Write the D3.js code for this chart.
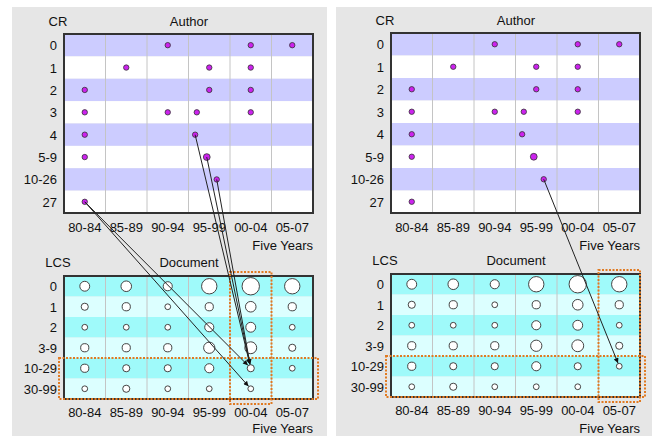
<html>
<head>
<script src="https://d3js.org/d3.v7.min.js"></script>
<style>
  body { margin: 0; background: #fff; }
  text { font-family: "Liberation Sans", Arial, sans-serif; font-size: 13px; fill: #111; }
</style>
</head>
<body>
<div id="chart"></div>
<script>
// periods on the x axis (start year, length in years)
const periods = ['80-84', '85-89', '90-94', '95-99', '00-04', '05-07'];
const periodStart = [1980, 1985, 1990, 1995, 2000, 2005];
const periodLen = [5, 5, 5, 5, 5, 3];

// row labels
const crRows = ['0', '1', '2', '3', '4', '5-9', '10-26', '27'];
const lcsRows = ['0', '1', '2', '3-9', '10-29', '30-99'];

// author points: period, CR class, year inside the period, number of authors
const authorPeriod = ['90-94', '00-04', '05-07', '85-89', '95-99', '00-04', '80-84', '95-99', '00-04',
                      '80-84', '90-94', '95-99', '00-04', '80-84', '95-99', '80-84', '95-99', '95-99', '80-84'];
const authorCR = ['0', '0', '0', '1', '1', '1', '2', '2', '2',
                  '3', '3', '3', '3', '4', '4', '5-9', '5-9', '10-26', '27'];
const authorYear = [1992.5, 2002.5, 2006.5, 1987.5, 1997.5, 2002.5, 1982.5, 1997.5, 2002.5,
                    1982.5, 1992.5, 1996.0, 2002.5, 1982.5, 1995.8, 1982.5, 1997.2, 1998.4, 1982.5];
const authorCount = [1, 1, 1, 1, 1, 1, 1, 1, 1, 1, 1, 1, 1, 1, 1, 1, 2, 1, 1];

// document counts, rows = LCS class, columns = period
const docCounts = [
  [5, 6, 4, 15, 20, 15],
  [2, 3, 1, 3, 6, 3],
  [1, 1, 1, 4, 5, 1],
  [3, 3, 3, 7, 8, 2],
  [3, 2, 2, 4, 2, 1],
  [1, 2, 1, 1, 1, 0]
];

// citation links: author point index -> document cell
const leftLinks = [
  { from: 18, toPeriod: '00-04', toRow: '10-29' },
  { from: 18, toPeriod: '00-04', toRow: '30-99' },
  { from: 14, toPeriod: '00-04', toRow: '10-29' },
  { from: 16, toPeriod: '00-04', toRow: '10-29' },
  { from: 17, toPeriod: '00-04', toRow: '10-29' }
];
const rightLinks = [
  { from: 17, toPeriod: '05-07', toRow: '10-29' }
];

// highlighted column / rows of the document grid
const leftHighlight = { period: '00-04', rows: ['10-29', '30-99'] };
const rightHighlight = { period: '05-07', rows: ['10-29', '30-99'] };

const W = 652, H = 436;
const svg = d3.select('#chart').append('svg').attr('width', W).attr('height', H);

const defs = svg.append('defs');
defs.append('marker')
    .attr('id', 'arrow')
    .attr('markerUnits', 'userSpaceOnUse')
    .attr('viewBox', '0 0 10 10')
    .attr('refX', 10).attr('refY', 5)
    .attr('markerWidth', 8).attr('markerHeight', 5)
    .attr('orient', 'auto')
  .append('path')
    .attr('d', 'M0,0 L10,5 L0,10 z')
    .attr('fill', '#111');

const authors = authorPeriod.map((p, i) => ({
  period: p, cr: authorCR[i], year: authorYear[i], n: authorCount[i]
}));
const docs = [];
docCounts.forEach((row, r) => row.forEach((n, c) => {
  if (n > 0) docs.push({ period: periods[c], lcs: lcsRows[r], n: n });
}));

const rDoc = d3.scaleSqrt().domain([0, 20]).range([1.2, 8.7]);
const rAuthor = d3.scaleLinear().domain([1, 2]).range([2.7, 3.4]);

function drawPanel(cfg) {
  const g = svg.append('g');

  g.append('rect')
      .attr('x', cfg.bgX).attr('y', 7)
      .attr('width', cfg.bgW).attr('height', H - 7)
      .attr('fill', '#e6e6e6');

  const x = d3.scaleBand().domain(periods).range([cfg.x0, cfg.x0 + 249]);
  const yTop = d3.scaleBand().domain(crRows).range([cfg.topY0, cfg.topY1]);
  const yBot = d3.scaleBand().domain(lcsRows).range([cfg.botY0, cfg.botY1]);
  const bw = x.bandwidth();

  const authorX = d => {
    const i = periods.indexOf(d.period);
    return x(d.period) + (d.year - periodStart[i]) / periodLen[i] * bw;
  };
  const docX = p => x(p) + bw / 2;

  // ---- top: Author grid
  g.selectAll('.rowTop').data(crRows).enter().append('rect')
      .attr('x', cfg.x0).attr('y', d => yTop(d))
      .attr('width', 249).attr('height', yTop.bandwidth())
      .attr('fill', (d, i) => i % 2 === 0 ? '#ccccff' : '#ffffff');
  g.selectAll('.colTop').data(periods.slice(1)).enter().append('line')
      .attr('x1', d => x(d)).attr('x2', d => x(d))
      .attr('y1', cfg.topY0).attr('y2', cfg.topY1)
      .attr('stroke', '#c4c4c4');
  g.append('rect')
      .attr('x', cfg.x0).attr('y', cfg.topY0)
      .attr('width', 249).attr('height', cfg.topY1 - cfg.topY0)
      .attr('fill', 'none').attr('stroke', '#333').attr('stroke-width', 2);

  // ---- bottom: Document grid
  g.selectAll('.rowBot').data(lcsRows).enter().append('rect')
      .attr('x', cfg.x0).attr('y', d => yBot(d))
      .attr('width', 249).attr('height', yBot.bandwidth())
      .attr('fill', (d, i) => i % 2 === 0 ? '#9ffafa' : '#dcffff');
  g.selectAll('.colBot').data(periods.slice(1)).enter().append('line')
      .attr('x1', d => x(d)).attr('x2', d => x(d))
      .attr('y1', cfg.botY0).attr('y2', cfg.botY1)
      .attr('stroke', '#c4c4c4');
  g.append('rect')
      .attr('x', cfg.x0).attr('y', cfg.botY0)
      .attr('width', 249).attr('height', cfg.botY1 - cfg.botY0)
      .attr('fill', 'none').attr('stroke', '#333').attr('stroke-width', 2);

  g.selectAll('.doc').data(docs).enter().append('circle')
      .attr('cx', d => docX(d.period))
      .attr('cy', d => yBot(d.lcs) + yBot.bandwidth() / 2)
      .attr('r', d => rDoc(d.n))
      .attr('fill', '#fff').attr('stroke', '#444').attr('stroke-width', 1);

  g.selectAll('.author').data(authors).enter().append('circle')
      .attr('cx', authorX)
      .attr('cy', d => yTop(d.cr) + yTop.bandwidth() / 2)
      .attr('r', d => rAuthor(d.n))
      .attr('fill', '#cc22ee').attr('stroke', '#333').attr('stroke-width', 0.8);

  // ---- labels
  g.selectAll('.ytTop').data(crRows).enter().append('text')
      .attr('x', cfg.x0 - 7).attr('y', d => yTop(d) + yTop.bandwidth() / 2 + 5)
      .attr('text-anchor', 'end').text(d => d);
  g.selectAll('.ytBot').data(lcsRows).enter().append('text')
      .attr('x', cfg.x0 - 7).attr('y', d => yBot(d) + yBot.bandwidth() / 2 + 5)
      .attr('text-anchor', 'end').text(d => d);
  g.selectAll('.xtTop').data(periods).enter().append('text')
      .attr('x', d => x(d) + bw / 2).attr('y', cfg.topY1 + 19)
      .attr('text-anchor', 'middle').text(d => d);
  g.selectAll('.xtBot').data(periods).enter().append('text')
      .attr('x', d => x(d) + bw / 2).attr('y', cfg.botY1 + 18)
      .attr('text-anchor', 'middle').text(d => d);

  g.append('text').attr('x', cfg.x0 - 6).attr('y', cfg.topY0 - 8)
      .attr('text-anchor', 'middle').text('CR');
  g.append('text').attr('x', cfg.x0 + 125).attr('y', cfg.topY0 - 8)
      .attr('text-anchor', 'middle').text('Author');
  g.append('text').attr('x', cfg.x0 + 249).attr('y', cfg.topY1 + 37)
      .attr('text-anchor', 'end').text('Five Years');
  g.append('text').attr('x', cfg.x0 - 6).attr('y', cfg.botY0 - 9)
      .attr('text-anchor', 'middle').text('LCS');
  g.append('text').attr('x', cfg.x0 + 125).attr('y', cfg.botY0 - 9)
      .attr('text-anchor', 'middle').text('Document');
  g.append('text').attr('x', cfg.x0 + 249).attr('y', Math.min(cfg.botY1 + 36, H - 3))
      .attr('text-anchor', 'end').text('Five Years');

  // ---- highlight boxes
  const hl = cfg.highlight;
  const rowsY = hl.rows.map(r => yBot(r));
  g.append('rect')
      .attr('x', x(hl.period)).attr('y', cfg.botY0 - 4)
      .attr('width', bw).attr('height', cfg.botY1 - cfg.botY0 + 9)
      .attr('fill', 'none').attr('stroke', '#e07a22').attr('stroke-width', 2)
      .attr('stroke-dasharray', '2,1.5');
  g.append('rect')
      .attr('x', cfg.x0 - 5).attr('y', d3.min(rowsY))
      .attr('width', 259).attr('height', d3.max(rowsY) + yBot.bandwidth() - d3.min(rowsY))
      .attr('fill', 'none').attr('stroke', '#e07a22').attr('stroke-width', 2)
      .attr('stroke-dasharray', '2,1.5');

  // ---- links
  const docCount = (p, r) => docCounts[lcsRows.indexOf(r)][periods.indexOf(p)];
  g.selectAll('.link').data(cfg.links).enter().append('line')
      .each(function(d) {
        const a = authors[d.from];
        const x1 = authorX(a), y1 = yTop(a.cr) + yTop.bandwidth() / 2;
        const cx = docX(d.toPeriod), cy = yBot(d.toRow) + yBot.bandwidth() / 2;
        const len = Math.hypot(cx - x1, cy - y1);
        const rr = rDoc(docCount(d.toPeriod, d.toRow)) + 0.5;
        d3.select(this)
          .attr('x1', x1).attr('y1', y1)
          .attr('x2', cx - (cx - x1) / len * rr)
          .attr('y2', cy - (cy - y1) / len * rr);
      })
      .attr('stroke', '#222').attr('stroke-width', 1)
      .attr('marker-end', 'url(#arrow)');
}

drawPanel({ bgX: 12, bgW: 315, x0: 64, topY0: 34, topY1: 213, botY0: 276, botY1: 399,
            highlight: leftHighlight, links: leftLinks });
drawPanel({ bgX: 336, bgW: 316, x0: 391, topY0: 33, topY1: 213, botY0: 274, botY1: 397,
            highlight: rightHighlight, links: rightLinks });
</script>
</body>
</html>
